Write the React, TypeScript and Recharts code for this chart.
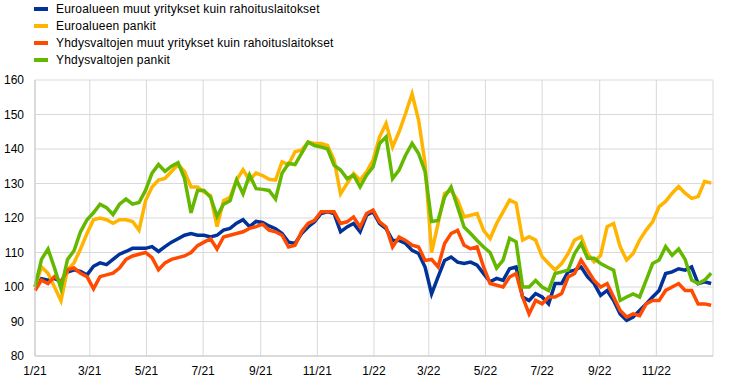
import React from "react";
import { LineChart, Line, XAxis, YAxis, CartesianGrid } from "recharts";

// weekly readings, 1 Jan 2021 = 100
const euroMuut = [
  100, 102.4, 102, 102.5, 101.5, 104.3, 105, 104.5, 103.5, 106, 107, 106.5, 108, 109.5, 110.3, 111.2, 111.2, 111.2,
  111.7, 110.3, 111.7, 113, 114, 115, 115.5, 115, 115, 114.5, 115, 116.5, 117, 118.5, 119.5, 117.5, 119, 118.7,
  117.7, 116.9, 115.5, 113, 112.6, 115.5, 117.4, 118.9, 121.3, 121.8, 121.3, 116, 117.4, 118.4, 116, 120.8, 121.8,
  118.4, 116.9, 113.5, 113.5, 112.6, 110.6, 109.7, 105.8, 98, 102.9, 107.7, 108.7, 107.2, 106.8, 107.2, 106.3,
  103.9, 101.5, 102.5, 101.9, 105.3, 105.8, 97.1, 96.1, 98.1, 97.1, 95.1, 101, 101, 104.4, 104.9, 105.8, 102.9,
  101, 97.6, 99, 96.1, 92.2, 90.3, 91.3, 93.2, 95.1, 97.1, 99, 103.9, 104.4, 105.3, 104.9, 105.8, 101, 101.5, 101,
];
const euroPankit = [
  100, 105.8, 104, 100, 96, 105, 107, 111, 115.5, 119.5, 120, 119.5, 118.5, 119.5, 119.5, 119, 116.5, 125, 129,
  131, 131.5, 133.5, 135.5, 133.5, 129, 129, 127.5, 126.5, 117.5, 125, 126, 131, 134, 131, 133, 132.3, 131.2, 131,
  136.3, 135.5, 139.2, 139.7, 142, 141.6, 141.6, 141, 136.8, 127, 130, 132.9, 131, 133.4, 136.8, 143.5, 147.4,
  140.6, 145, 150.3, 156, 148.4, 135.8, 110, 118.4, 127.1, 128, 125.2, 120.3, 120.8, 121.3, 116.4, 114, 118.4,
  121.8, 125.2, 124.3, 113.6, 114.6, 113.6, 108.8, 106.8, 104.9, 106.8, 109.7, 113.6, 114.6, 109.7, 107.3, 109.2,
  117.5, 118.4, 111.7, 107.8, 109.7, 113.6, 116.5, 118.9, 123.3, 124.8, 127.2, 129.1, 127.2, 125.7, 126.2, 130.6,
  130.1,
];
const usMuut = [
  99, 102, 101, 103, 101.5, 105, 105.5, 104, 103, 99.5, 103, 103.5, 104, 105.5, 108, 109, 109.5, 110, 108.5, 105,
  107, 108, 108.5, 109, 110, 112, 113, 114, 111, 114.5, 115, 115.5, 116, 117, 117.5, 118.2, 116.5, 116, 115, 111.6,
  112.1, 116, 118.4, 119.3, 121.8, 121.8, 121.8, 118.4, 118.9, 120.3, 117.4, 121.3, 122.3, 118.9, 117.4, 111.6,
  114.5, 113.5, 112.1, 111.6, 107.7, 108, 105.8, 112.6, 115.5, 116.4, 112.1, 111.1, 111.6, 105.8, 101, 100.5, 100,
  102.9, 103.9, 97.1, 92.2, 96.1, 95.1, 97.1, 97.1, 98.1, 102.9, 103.9, 107.8, 104.9, 101.9, 100, 101, 97.1, 93.2,
  91.3, 92.2, 91.7, 95.1, 96.1, 96.1, 99, 100, 101, 99, 99, 95.1, 95.1, 94.7,
];
const usPankit = [
  100, 108, 111, 105.5, 99.5, 108, 110.5, 116, 119.5, 121.5, 124, 123, 121, 124, 125.5, 124, 124.5, 128, 133,
  135.5, 133.5, 135, 136, 131.5, 121.5, 128, 128, 126, 120.5, 124, 125, 131, 127, 132.5, 128.5, 128.3, 128, 125.5,
  133, 135.8, 135.5, 138.7, 142, 141, 140.6, 140, 135.3, 133.9, 131.4, 132.4, 129, 132.4, 134.8, 141.6, 143.5,
  131.4, 133.9, 138.2, 141.6, 138.7, 133.4, 119, 119.3, 126.1, 129, 123.2, 117.4, 115.5, 113.5, 111.6, 110, 105.5,
  107.8, 114.1, 113.1, 100, 100, 101.9, 100, 99, 103.9, 104.4, 104.9, 109.7, 112.6, 108.3, 108.3, 106.8, 105.8,
  104.9, 96.1, 97.1, 98, 97.1, 101.9, 106.8, 107.8, 111.7, 109.2, 111, 108, 102, 101, 102, 104,
];

const tickDates = [
  "2021-01-01", "2021-03-01", "2021-05-01", "2021-07-01", "2021-09-01", "2021-11-01",
  "2022-01-01", "2022-03-01", "2022-05-01", "2022-07-01", "2022-09-01", "2022-11-01", "2023-01-01",
];
const tickLabels = ["1/21", "3/21", "5/21", "7/21", "9/21", "11/21", "1/22", "3/22", "5/22", "7/22", "9/22", "11/22", ""];
const yTicks = [80, 90, 100, 110, 120, 130, 140, 150, 160];

const series = [
  { key: "euroMuut", name: "Euroalueen muut yritykset kuin rahoituslaitokset", color: "#003299" },
  { key: "euroPankit", name: "Euroalueen pankit", color: "#ffb400" },
  { key: "usMuut", name: "Yhdysvaltojen muut yritykset kuin rahoituslaitokset", color: "#ff4b00" },
  { key: "usPankit", name: "Yhdysvaltojen pankit", color: "#65b800" },
];

const START = Date.UTC(2021, 0, 1);
const toDay = (s: string) => (Date.parse(s + "T00:00:00Z") - START) / 86400000;
const tickDays = tickDates.map(toDay);

const data = euroMuut.map((v, i) => ({
  d: i * 7,
  euroMuut: v,
  euroPankit: euroPankit[i],
  usMuut: usMuut[i],
  usPankit: usPankit[i],
}));

const font = "'Liberation Sans', Arial, sans-serif";

export default function App() {
  return (
    <div style={{ position: "absolute", left: 0, top: 0, width: 742, height: 390, background: "#fff", fontFamily: font }}>
      <div style={{ position: "absolute", left: 34, top: 0 }}>
        {series.map((s, i) => (
          <div key={s.key} style={{ position: "absolute", top: 1 + i * 17.3, left: 0, height: 15, display: "flex", alignItems: "center", whiteSpace: "nowrap" }}>
            <span style={{ display: "inline-block", width: 14, height: 4, background: s.color, marginRight: 8 }} />
            <span style={{ fontSize: 12, color: "#000", letterSpacing: 0.2 }}>{s.name}</span>
          </div>
        ))}
      </div>
      <div style={{ position: "absolute", left: 0, top: 0 }}>
        <LineChart width={742} height={390} data={data} margin={{ top: 80, right: 29, bottom: 14, left: 0 }}>
          <CartesianGrid stroke="#d9d9d9" strokeWidth={1} />
          <XAxis
            dataKey="d"
            type="number"
            domain={[0, 730]}
            ticks={tickDays}
            interval={0}
            tickFormatter={(v: number) => tickLabels[tickDays.indexOf(v)] ?? ""}
            tick={{ fontSize: 12, fill: "#000", fontFamily: font }}
            tickSize={0}
            tickMargin={10}
            height={20}
            axisLine={{ stroke: "#c8c8c8" }}
          />
          <YAxis
            domain={[80, 160]}
            ticks={yTicks}
            interval={0}
            width={35}
            tick={{ fontSize: 12, fill: "#000", fontFamily: font }}
            tickSize={0}
            tickMargin={11}
            axisLine={{ stroke: "#c8c8c8" }}
          />
          {series.map((s) => (
            <Line
              key={s.key}
              dataKey={s.key}
              name={s.name}
              stroke={s.color}
              strokeWidth={3.5}
              dot={false}
              type="linear"
              isAnimationActive={false}
            />
          ))}
        </LineChart>
      </div>
    </div>
  );
}
